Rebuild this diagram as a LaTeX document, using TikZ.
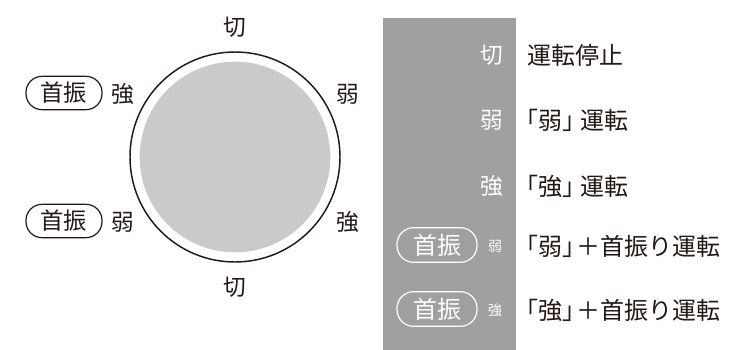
\documentclass[tikz,border=0pt]{standalone}
\usepackage{fontspec}
\setmainfont{Noto Sans CJK JP}
\newfontfamily\halfw[RawFeature=+halt]{Noto Sans CJK JP}
\newcommand{\lbr}{{\halfw 「}}
\newcommand{\rbr}{{\halfw 」}}
\definecolor{ink}{HTML}{231815}
\definecolor{dialgray}{HTML}{C9CACA}
\definecolor{panelgray}{HTML}{9FA0A0}
\tikzset{
  lbl/.style={font=\fontsize{17}{19}\selectfont, text=ink, inner sep=0pt},
  wlbl/.style={font=\fontsize{17}{19}\selectfont, text=white, inner sep=0pt},
  smallw/.style={font=\fontsize{10.5}{12}\selectfont, text=white, inner sep=0pt},
  desc/.style={font=\fontsize{18}{20}\selectfont, text=ink, inner sep=0pt, anchor=west},
  pill/.style={draw=ink, line width=0.9pt, rounded corners=12pt, minimum width=57pt, minimum height=25pt, inner sep=0pt, font=\fontsize{17.5}{19}\selectfont, text=ink},
  wpill/.style={draw=white, line width=0.9pt, rounded corners=12.5pt, minimum width=60pt, minimum height=26pt, inner sep=0pt, font=\fontsize{18}{20}\selectfont, text=white},
}
\begin{document}
\begin{tikzpicture}[x=0.75pt,y=-0.75pt]
\useasboundingbox (0,0) rectangle (747,350);
% dial
\node[circle, draw=ink, line width=1.1pt, minimum size=157.5pt, inner sep=0pt] (dial) at (235,157) {};
\node[circle, fill=dialgray, minimum size=143pt, inner sep=0pt] (face) at (235,157) {};
\node[lbl] (offtop) at (235,27) {切};
\node[lbl] (offbot) at (235,287) {切};
\node[lbl] (rweak) at (348,94) {弱};
\node[lbl] (rstrong) at (348,222) {強};
\node[lbl] (lstrong) at (123,94) {強};
\node[lbl] (lweak) at (123,222) {弱};
\node[pill] (lpill1) at (64,93) {首振};
\node[pill] (lpill2) at (64,221) {首振};
% panel
\fill[panelgray] (383,18) rectangle (516,350);
\node[wlbl] (p1) at (492,55) {切};
\node[wlbl] (p2) at (492,120) {弱};
\node[wlbl] (p3) at (492,186) {強};
\node[wpill] (pp4) at (437,245) {首振};
\node[smallw] (p4) at (495,246) {弱};
\node[wpill] (pp5) at (437,309) {首振};
\node[smallw] (p5) at (495,310) {強};
% descriptions
\node[desc] (d1) at (527,55) {運転停止};
\node[desc] (d2) at (526,120) {\lbr 弱\rbr\hspace{0.25em}運転};
\node[desc] (d3) at (526,186) {\lbr 強\rbr\hspace{0.25em}運転};
\node[desc] (d4) at (526,246) {\lbr 弱\rbr\hspace{0.1em}＋首振り運転};
\node[desc] (d5) at (526,310) {\lbr 強\rbr\hspace{0.1em}＋首振り運転};
\end{tikzpicture}
\end{document}
